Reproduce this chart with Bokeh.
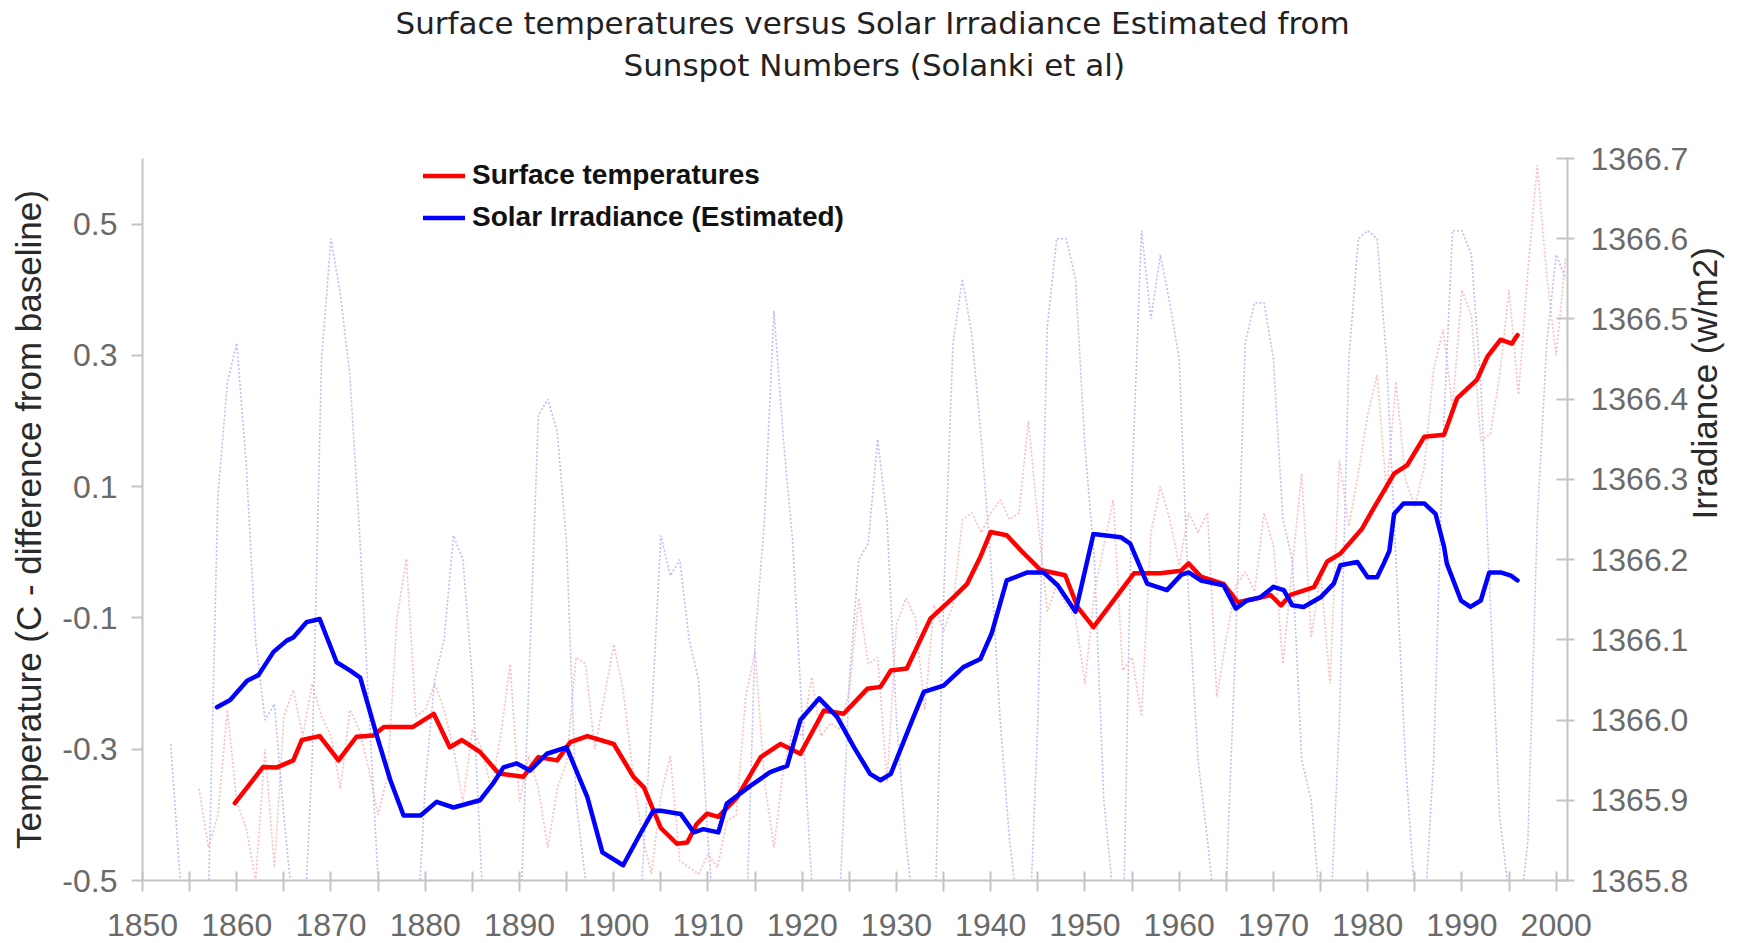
import math
from bokeh.plotting import figure
from bokeh.models import (Range1d, LinearAxis, FixedTicker, NumeralTickFormatter,
                          Title, Legend, LegendItem)
from bokeh.embed import file_html
from bokeh.resources import INLINE

# ---------------- data ----------------
YEAR_TICKS = [1850, 1860, 1870, 1880, 1890, 1900, 1910, 1920, 1930, 1940,
              1950, 1960, 1970, 1980, 1990, 2000]
YEAR_MINOR = [1855, 1865, 1875, 1885, 1895, 1905, 1915, 1925, 1935, 1945,
              1955, 1965, 1975, 1985, 1995]
TEMP_TICKS = [-0.5, -0.3, -0.1, 0.1, 0.3, 0.5]
IRR_TICKS = [1365.8, 1365.9, 1366.0, 1366.1, 1366.2, 1366.3, 1366.4, 1366.5,
             1366.6, 1366.7]

# smoothed surface temperature (left axis)
temp_smooth_years = [1859.8, 1862.8, 1864.2, 1866.0, 1866.9, 1868.8, 1870.8, 1872.7,
                     1874.5, 1875.6, 1878.7, 1880.9, 1882.6, 1883.9, 1885.8, 1887.8,
                     1890.4, 1892.0, 1894.0, 1895.4, 1897.2, 1900.0, 1902.1, 1903.2,
                     1905.0, 1906.7, 1907.8, 1908.8, 1909.9, 1911.1, 1913.1, 1915.6,
                     1917.7, 1919.8, 1922.3, 1924.4, 1926.9, 1928.3, 1929.4, 1931.1,
                     1933.6, 1936.1, 1937.5, 1938.9, 1940.0, 1941.7, 1943.2, 1945.3,
                     1947.9, 1949.2, 1950.9, 1955.2, 1958.0, 1960.2, 1961.0, 1962.3,
                     1964.7, 1966.2, 1968.3, 1969.7, 1970.8, 1971.8, 1974.3, 1975.7,
                     1977.1, 1979.4, 1980.7, 1982.8, 1984.2, 1986.0, 1988.1, 1989.5,
                     1991.6, 1992.7, 1994.1, 1995.3, 1995.9]
temp_smooth_vals = [-0.382, -0.327, -0.328, -0.317, -0.286, -0.280, -0.317, -0.281,
                    -0.279, -0.266, -0.266, -0.246, -0.297, -0.286, -0.304, -0.337,
                    -0.342, -0.312, -0.317, -0.289, -0.280, -0.292, -0.342, -0.358,
                    -0.420, -0.444, -0.442, -0.414, -0.398, -0.403, -0.373, -0.312,
                    -0.292, -0.307, -0.241, -0.246, -0.208, -0.205, -0.180, -0.177,
                    -0.101, -0.068, -0.048, -0.007, 0.031, 0.026, 0.003, -0.027,
                    -0.035, -0.083, -0.114, -0.032, -0.032, -0.028, -0.017, -0.037,
                    -0.048, -0.076, -0.070, -0.065, -0.081, -0.065, -0.053, -0.014,
                    -0.002, 0.036, 0.069, 0.120, 0.133, 0.176, 0.179, 0.235,
                    0.263, 0.298, 0.324, 0.318, 0.331]

# smoothed solar irradiance (right axis)
irr_smooth_years = [1857.9, 1859.3, 1861.1, 1862.3, 1863.9, 1865.3, 1866.0, 1867.4,
                    1868.8, 1870.6, 1872.0, 1873.1, 1874.9, 1876.3, 1877.7, 1879.5,
                    1881.2, 1883.0, 1885.8, 1887.2, 1888.3, 1889.7, 1891.1, 1892.9,
                    1895.0, 1897.2, 1898.8, 1901.0, 1902.8, 1904.2, 1905.0, 1907.1,
                    1908.5, 1909.5, 1911.1, 1912.0, 1914.5, 1916.6, 1918.4, 1919.8,
                    1921.8, 1923.7, 1925.5, 1927.2, 1928.3, 1929.4, 1931.5, 1932.9,
                    1935.0, 1937.1, 1938.9, 1940.1, 1941.7, 1943.9, 1945.6, 1947.1,
                    1949.0, 1950.9, 1953.8, 1954.8, 1956.6, 1958.7, 1960.2, 1961.0,
                    1962.3, 1964.7, 1966.0, 1967.2, 1968.6, 1970.0, 1971.1, 1972.0,
                    1973.2, 1975.0, 1976.4, 1977.1, 1978.9, 1980.0, 1981.0, 1981.7,
                    1982.3, 1982.8, 1983.8, 1986.0, 1987.2, 1988.1, 1988.4, 1989.9,
                    1990.9, 1992.0, 1992.9, 1994.1, 1995.2, 1995.9]
irr_smooth_vals = [1366.016, 1366.025, 1366.049, 1366.056, 1366.085, 1366.099, 1366.103, 1366.122,
                   1366.126, 1366.072, 1366.062, 1366.053, 1365.979, 1365.925, 1365.881, 1365.881,
                   1365.898, 1365.891, 1365.900, 1365.921, 1365.941, 1365.946, 1365.937, 1365.958,
                   1365.966, 1365.904, 1365.835, 1365.819, 1365.858, 1365.887, 1365.887, 1365.883,
                   1365.860, 1365.864, 1365.860, 1365.896, 1365.918, 1365.935, 1365.943, 1366.000,
                   1366.027, 1366.004, 1365.966, 1365.933, 1365.925, 1365.933, 1365.995, 1366.035,
                   1366.043, 1366.066, 1366.076, 1366.108, 1366.174, 1366.184, 1366.184, 1366.168,
                   1366.135, 1366.232, 1366.228, 1366.220, 1366.170, 1366.162, 1366.181, 1366.184,
                   1366.174, 1366.168, 1366.139, 1366.149, 1366.153, 1366.166, 1366.162, 1366.143,
                   1366.141, 1366.153, 1366.170, 1366.193, 1366.197, 1366.178, 1366.178, 1366.195,
                   1366.211, 1366.257, 1366.270, 1366.270, 1366.257, 1366.216, 1366.195, 1366.149,
                   1366.141, 1366.149, 1366.184, 1366.184, 1366.180, 1366.174]

# annual surface temperatures, 1856-2001 (faint dotted, left axis)
temp_annual_years = list(range(1856, 2002))
temp_annual_vals = [
    -0.36, -0.45, -0.40, -0.24, -0.38, -0.42, -0.50, -0.30, -0.48, -0.25,  # 1856-1865
    -0.21, -0.28, -0.20, -0.25, -0.28, -0.36, -0.24, -0.27, -0.33, -0.40,  # 1866-1875
    -0.34, -0.10, -0.01, -0.25, -0.24, -0.20, -0.24, -0.30, -0.38, -0.27,  # 1876-1885
    -0.30, -0.36, -0.28, -0.17, -0.38, -0.31, -0.36, -0.45, -0.36, -0.32,  # 1886-1895
    -0.16, -0.17, -0.30, -0.22, -0.14, -0.21, -0.33, -0.43, -0.49, -0.37,  # 1896-1905
    -0.31, -0.47, -0.48, -0.49, -0.46, -0.48, -0.41, -0.40, -0.22, -0.15,  # 1906-1915
    -0.35, -0.45, -0.33, -0.27, -0.28, -0.19, -0.28, -0.26, -0.27, -0.21,  # 1916-1925
    -0.07, -0.17, -0.16, -0.35, -0.11, -0.07, -0.10, -0.24, -0.08, -0.12,  # 1926-1935
    -0.08, 0.05, 0.06, 0.03, 0.06, 0.08, 0.05, 0.06, 0.20, 0.05,          # 1936-1945
    -0.09, -0.05, -0.08, -0.10, -0.20, -0.06, 0.01, 0.08, -0.18, -0.16,   # 1946-1955
    -0.25, 0.03, 0.10, 0.05, -0.02, 0.06, 0.03, 0.06, -0.22, -0.13,       # 1956-1965
    -0.05, -0.03, -0.06, 0.06, 0.01, -0.17, -0.02, 0.12, -0.13, -0.03,    # 1966-1975
    -0.20, 0.14, 0.04, 0.12, 0.21, 0.27, 0.09, 0.26, 0.11, 0.07,          # 1976-1985
    0.13, 0.28, 0.34, 0.22, 0.40, 0.36, 0.17, 0.18, 0.27, 0.40,           # 1986-1995
    0.24, 0.43, 0.59, 0.42, 0.30, 0.45,                                   # 1996-2001
]

# annual estimated irradiance, 1853-2001 (faint dotted, right axis)
irr_annual_years = list(range(1853, 2002))
irr_annual_vals = [
    1365.97, 1365.80, 1365.70, 1365.66, 1365.78, 1366.28, 1366.42,             # 1853-1859
    1366.47, 1366.32, 1366.10, 1366.00, 1366.02, 1365.88, 1365.76, 1365.70, 1365.95, 1366.45,  # 1860-1869
    1366.60, 1366.53, 1366.43, 1366.24, 1366.02, 1365.80, 1365.72, 1365.70, 1365.66, 1365.70,  # 1870-1879
    1365.92, 1366.05, 1366.10, 1366.23, 1366.20, 1366.05, 1365.80, 1365.74, 1365.70, 1365.68,  # 1880-1889
    1365.72, 1366.05, 1366.38, 1366.40, 1366.36, 1366.22, 1365.90, 1365.80, 1365.74, 1365.70,  # 1890-1899
    1365.66, 1365.66, 1365.66, 1365.80, 1366.00, 1366.23, 1366.18, 1366.20, 1366.10, 1366.05,  # 1900-1909
    1365.85, 1365.70, 1365.66, 1365.64, 1365.72, 1366.10, 1366.25, 1366.51, 1366.35, 1366.22,  # 1910-1919
    1366.00, 1365.80, 1365.75, 1365.68, 1365.78, 1366.05, 1366.20, 1366.22, 1366.35, 1366.25,  # 1920-1929
    1366.00, 1365.85, 1365.74, 1365.68, 1365.72, 1366.15, 1366.47, 1366.55, 1366.48, 1366.35,  # 1930-1939
    1366.20, 1366.00, 1365.85, 1365.75, 1365.70, 1366.00, 1366.49, 1366.60, 1366.60, 1366.55,  # 1940-1949
    1366.34, 1366.20, 1365.90, 1365.78, 1365.70, 1366.30, 1366.61, 1366.50, 1366.58, 1366.52,  # 1950-1959
    1366.45, 1366.15, 1365.95, 1365.85, 1365.74, 1365.80, 1366.10, 1366.47, 1366.52, 1366.52,  # 1960-1969
    1366.45, 1366.25, 1366.20, 1365.95, 1365.90, 1365.76, 1365.74, 1366.00, 1366.45, 1366.60,  # 1970-1979
    1366.61, 1366.60, 1366.45, 1366.20, 1365.95, 1365.78, 1365.75, 1365.95, 1366.35, 1366.61,  # 1980-1989
    1366.61, 1366.58, 1366.42, 1366.15, 1365.88, 1365.78, 1365.74, 1365.85, 1366.25, 1366.47,  # 1990-1999
    1366.58, 1366.55,                                                                          # 2000-2001
]

TITLE_LINE1 = "Surface temperatures versus Solar Irradiance Estimated from"
TITLE_LINE2 = "Sunspot Numbers (Solanki et al)"

# ---------------- figure ----------------
FONT = "Liberation Sans"
TITLE_FONT = "DejaVu Sans"
AXIS_GRAY = "#c4c4c4"
TICK_TEXT = "#6a6a6a"

p = figure(width=1748, height=943,
           x_range=Range1d(1850, 2001.2), y_range=Range1d(-0.5, 0.6),
           output_backend="svg", toolbar_location=None,
           min_border_left=142, min_border_right=181,
           min_border_top=158, min_border_bottom=63,
           background_fill_color="white", border_fill_color="white")
p.outline_line_color = None
p.xgrid.visible = False
p.ygrid.visible = False
p.extra_y_ranges = {"irr": Range1d(1365.8, 1366.7)}

# bottom (year) axis
xa = p.below[0]
xa.ticker = FixedTicker(ticks=YEAR_TICKS, minor_ticks=YEAR_MINOR)
xa.formatter = NumeralTickFormatter(format="0")
xa.axis_line_color = AXIS_GRAY
xa.axis_line_width = 2
xa.major_tick_line_color = AXIS_GRAY
xa.minor_tick_line_color = AXIS_GRAY
xa.major_tick_line_width = 2
xa.minor_tick_line_width = 2
xa.major_tick_in = 9
xa.major_tick_out = 11
xa.minor_tick_in = 9
xa.minor_tick_out = 11
xa.major_label_text_font = FONT
xa.major_label_text_font_size = "32px"
xa.major_label_text_color = TICK_TEXT
xa.major_label_standoff = 22

# title: plot title is outermost; first item of `above` sits nearest the plot
p.title.text = TITLE_LINE1
p.title.align = "left"
p.title.offset = 253
p.title.text_font = TITLE_FONT
p.title.text_font_size = "31px"
p.title.text_font_style = "normal"
p.title.text_color = "#222222"
p.title.standoff = 4
# blank gap between the two title lines and the plot area
gap = Title(text=" ", text_font_size="2px", text_color="#ffffff", standoff=70)
p.add_layout(gap, "above")
t2 = Title(text=TITLE_LINE2, align="left", offset=481, text_font=TITLE_FONT,
           text_font_size="31px", text_font_style="normal", text_color="#222222",
           standoff=4)
p.add_layout(t2, "above")

# left axis
ya = p.left[0]
ya.ticker = FixedTicker(ticks=TEMP_TICKS)
ya.formatter = NumeralTickFormatter(format="0.0")
ya.axis_line_color = AXIS_GRAY
ya.axis_line_width = 2
ya.major_tick_line_color = AXIS_GRAY
ya.major_tick_line_width = 2
ya.major_tick_in = 0
ya.major_tick_out = 11
ya.minor_tick_line_color = None
ya.major_label_text_font = FONT
ya.major_label_text_font_size = "32px"
ya.major_label_text_color = TICK_TEXT
ya.major_label_standoff = 14
ya.axis_label = "Temperature (C - difference from baseline)"
ya.axis_label_text_font = FONT
ya.axis_label_text_font_size = "35px"
ya.axis_label_text_font_style = "normal"
ya.axis_label_text_color = "#2a2a2a"
ya.axis_label_standoff = 11

# right axis
ra = LinearAxis(y_range_name="irr", ticker=FixedTicker(ticks=IRR_TICKS),
                formatter=NumeralTickFormatter(format="0.0"))
ra.axis_line_color = AXIS_GRAY
ra.axis_line_width = 2
ra.major_tick_line_color = AXIS_GRAY
ra.major_tick_line_width = 2
ra.major_tick_in = 11
ra.major_tick_out = 7
ra.minor_tick_line_color = None
ra.major_label_text_font = FONT
ra.major_label_text_font_size = "32px"
ra.major_label_text_color = TICK_TEXT
ra.major_label_standoff = 16
ra.axis_label = "Irradiance (w/m2)"
ra.axis_label_text_font = FONT
ra.axis_label_text_font_size = "35px"
ra.axis_label_text_font_style = "normal"
ra.axis_label_text_color = "#2a2a2a"
ra.axis_label_standoff = 13
ra.axis_label_text_align = "center"
ra.axis_label_text_baseline = "top"
if "axis_label_orientation" in ra.properties():
    ra.axis_label_orientation = math.pi / 2
p.add_layout(ra, "right")

# faint annual series
p.line(temp_annual_years, temp_annual_vals, line_color="#ffbcbc",
       line_width=1.6, line_dash="2 2")
p.line(irr_annual_years, irr_annual_vals, y_range_name="irr", line_color="#bcbcff",
       line_width=1.6, line_dash="2 2")

# smoothed series
r_red = p.line(temp_smooth_years, temp_smooth_vals, line_color="#ff0000",
               line_width=4.5, line_join="round", line_cap="round")
r_blue = p.line(irr_smooth_years, irr_smooth_vals, y_range_name="irr",
                line_color="#0000ff", line_width=4.5, line_join="round", line_cap="round")

legend = Legend(items=[LegendItem(label="Surface temperatures", renderers=[r_red]),
                       LegendItem(label="Solar Irradiance (Estimated)", renderers=[r_blue])],
                location=(281, 647), orientation="vertical",
                border_line_color=None, background_fill_alpha=0,
                label_text_font=FONT, label_text_font_style="bold",
                label_text_font_size="28px", label_text_color="#111111",
                glyph_width=42, glyph_height=31, label_height=31,
                label_standoff=7, spacing=10, padding=0, margin=0)
p.add_layout(legend)

open("out.html", "w").write(file_html(p, INLINE))
